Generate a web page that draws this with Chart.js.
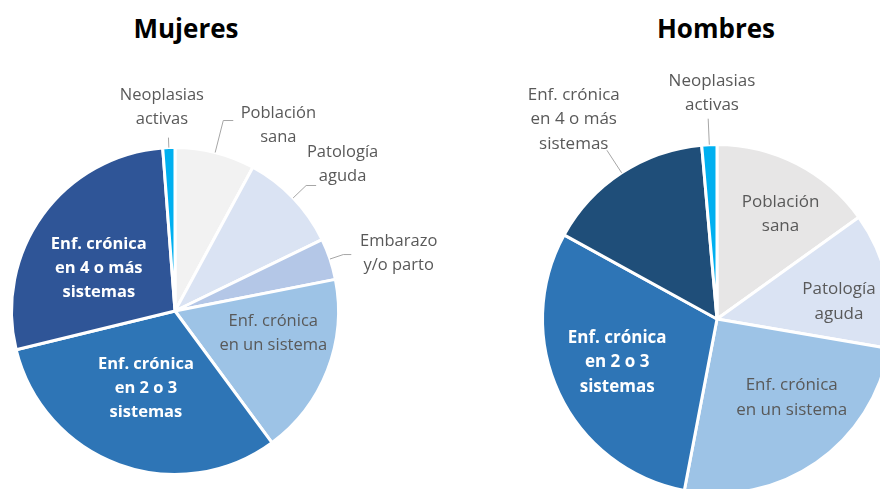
<!DOCTYPE html>
<html>
<head>
<meta charset="utf-8">
<script src="https://cdn.jsdelivr.net/npm/chart.js@4"></script>
<style>
  html, body { margin: 0; padding: 0; background: #fff; }
  body { width: 880px; height: 489px; overflow: hidden; position: relative; font-family: "Open Sans", sans-serif; }
  .titulo { position: absolute; top: 11px; height: 34px; line-height: 34px; font-size: 26px; font-weight: bold; color: #000; text-align: center; }
  canvas { position: absolute; top: 0; }
</style>
</head>
<body>
<div class="titulo" style="left:0; width:372px;">Mujeres</div>
<div class="titulo" style="left:560px; width:312px;">Hombres</div>
<canvas id="chart-mujeres" width="450" height="489" style="left:0;"></canvas>
<canvas id="chart-hombres" width="480" height="500" style="left:440px;"></canvas>
<script>
// Categorías y valores (%)
const categories = [
    'Población sana',
    'Patología aguda',
    'Embarazo y/o parto',
    'Enf. crónica en un sistema',
    'Enf. crónica en 2 o 3 sistemas',
    'Enf. crónica en 4 o más sistemas',
    'Neoplasias activas'
];
const labelLines = [
    ['Población', 'sana'],
    ['Patología', 'aguda'],
    ['Embarazo', 'y/o parto'],
    ['Enf. crónica', 'en un sistema'],
    ['Enf. crónica', 'en 2 o 3', 'sistemas'],
    ['Enf. crónica', 'en 4 o más', 'sistemas'],
    ['Neoplasias', 'activas']
];
const mujeresValues = [7.9, 9.9, 4.1, 18.0, 31.3, 27.6, 1.2];
const hombresValues = [15.1, 12.6, 0, 25.3, 30.0, 15.6, 1.4];

const mujeresColors = ['#F2F2F2', '#DAE3F3', '#B4C7E7', '#9DC3E6', '#2E75B6', '#2F5597', '#00B0F0'];
const hombresColors = ['#E7E6E6', '#DAE3F3', '#B4C7E7', '#9DC3E6', '#2E75B6', '#1F4E79', '#00B0F0'];

// Posición de las etiquetas, en radios desde el centro de la tarta
const mujeresLabelPos = [
    { dx: 0.632, dy: -1.135, out: true, lead: 33, hook: 10 },
    { dx: 1.025, dy: -0.896, out: true, lead: 18, hook: 10 },
    { dx: 1.368, dy: -0.350, out: true, lead: 14, hook: 8 },
    { dx: 0.601, dy: 0.135 },
    { dx: -0.178, dy: 0.472, white: true },
    { dx: -0.466, dy: -0.264, white: true },
    { dx: -0.080, dy: -1.245, out: true, lead: 10, hook: 0 }
];
const hombresLabelPos = [
    { dx: 0.364, dy: -0.601 },
    { dx: 0.699, dy: -0.098 },
    null,
    { dx: 0.428, dy: 0.451 },
    { dx: -0.572, dy: 0.249, white: true },
    { dx: -0.821, dy: -1.145, out: true, lead: 27, hook: 0 },
    { dx: -0.029, dy: -1.295, out: true, lead: 26, hook: 0 }
];

const pieLabels = {
    id: 'pieLabels',
    afterDatasetsDraw(chart, args, opts) {
        const ctx = chart.ctx;
        const meta = chart.getDatasetMeta(0);
        const values = chart.data.datasets[0].data;
        const fs = opts.fontSize;
        const lh = opts.lineHeight;
        meta.data.forEach((arc, i) => {
            const pos = opts.positions[i];
            if (!pos || !values[i]) return;
            const p = arc.getProps(['x', 'y', 'outerRadius', 'startAngle', 'endAngle'], true);
            const r = p.outerRadius;
            const lx = p.x + pos.dx * r;
            const ly = p.y + pos.dy * r;
            const lines = labelLines[i];
            ctx.save();
            if (pos.out) {
                // línea guía
                const mid = (p.startAngle + p.endAngle) / 2;
                const x0 = p.x + Math.cos(mid) * r;
                const y0 = p.y + Math.sin(mid) * r;
                const x1 = p.x + Math.cos(mid) * (r + pos.lead);
                const y1 = p.y + Math.sin(mid) * (r + pos.lead);
                ctx.strokeStyle = '#A6A6A6';
                ctx.lineWidth = 1;
                ctx.beginPath();
                ctx.moveTo(x0, y0);
                ctx.lineTo(x1, y1);
                if (pos.hook) ctx.lineTo(x1 + pos.hook, y1);
                ctx.stroke();
            }
            ctx.font = (pos.white ? 'bold ' : '') + fs + 'px "Open Sans", sans-serif';
            ctx.fillStyle = pos.white ? '#FFFFFF' : '#595959';
            ctx.textAlign = 'center';
            ctx.textBaseline = 'middle';
            const top = ly - (lines.length - 1) * lh / 2;
            lines.forEach((t, k) => ctx.fillText(t, lx, top + k * lh));
            ctx.restore();
        });
    }
};

function makePie(id, values, colors, positions, padding, fontSize, lineHeight) {
    return new Chart(document.getElementById(id), {
        type: 'pie',
        data: {
            labels: categories,
            datasets: [{
                data: values,
                backgroundColor: colors,
                borderColor: '#FFFFFF',
                borderWidth: 3
            }]
        },
        options: {
            responsive: false,
            animation: false,
            events: [],
            layout: { padding: padding },
            plugins: {
                legend: { display: false },
                tooltip: { enabled: false },
                pieLabels: { positions: positions, fontSize: fontSize, lineHeight: lineHeight }
            }
        },
        plugins: [pieLabels]
    });
}

makePie('chart-mujeres', mujeresValues, mujeresColors, mujeresLabelPos,
    { left: 10, right: 110, top: 146, bottom: 13 }, 16.5, 24);
makePie('chart-hombres', hombresValues, hombresColors, hombresLabelPos,
    { left: 101, right: 27, top: 143, bottom: 5 }, 17, 24.5);
</script>
</body>
</html>
